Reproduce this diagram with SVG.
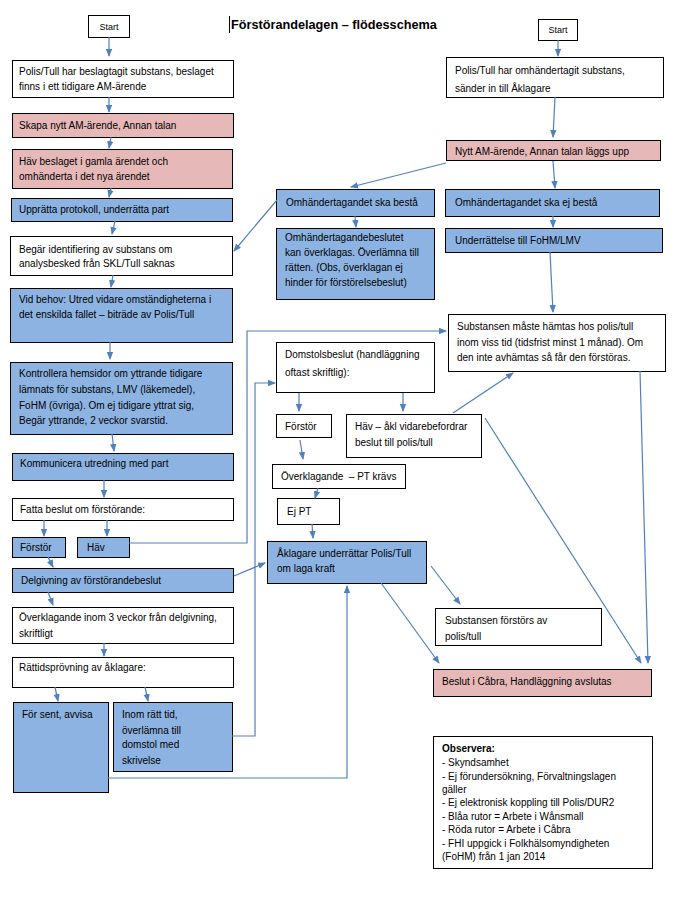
<svg xmlns="http://www.w3.org/2000/svg" width="675" height="898" viewBox="0 0 675 898">
<defs>
<marker id="ah" markerUnits="userSpaceOnUse" markerWidth="8" markerHeight="8" viewBox="0 0 8 8" refX="7" refY="4" orient="auto">
<path d="M0,0.8 L8,4 L0,7.2 Z" fill="#4F81BD"/>
</marker>
<style>
.w{fill:#ffffff;stroke:#000;stroke-width:1}
.b{fill:#8DB3E2;stroke:#000;stroke-width:1}
.p{fill:#E6B9B8;stroke:#000;stroke-width:1}
text{font-family:"Liberation Sans",Arial,sans-serif;font-size:10px;fill:#000}
.t{font-size:12.7px;font-weight:bold}
.s{font-size:9px}
.bo{font-weight:bold}
#conn line,#conn polyline{stroke:#4F81BD;stroke-width:1.2;fill:none;marker-end:url(#ah)}
</style>
</defs>
<rect width="675" height="898" fill="#fff"/>
<g id="title">
<line x1="229.5" y1="16" x2="229.5" y2="33" stroke="#000" stroke-width="1"/>
<text class="t" x="231" y="29">Förstörandelagen – flödesschema</text>
</g>

<g id="start-left"><rect class="w" x="88.5" y="15.5" width="41" height="22"/><text class="s" x="109" y="30" text-anchor="middle">Start</text></g>
<g id="beslag"><rect class="w" x="12.5" y="60.5" width="221" height="37"/><text x="19" y="75">Polis/Tull har beslagtagit substans, beslaget</text><text x="19" y="90">finns i ett tidigare AM-ärende</text></g>
<g id="skapa"><rect class="p" x="12.5" y="113.5" width="221" height="24"/><text x="19" y="129">Skapa nytt AM-ärende, Annan talan</text></g>
<g id="hav-beslag"><rect class="p" x="12.5" y="149.5" width="220" height="39"/><text x="19" y="165">Häv beslaget i gamla ärendet och</text><text x="19" y="180">omhänderta i det nya ärendet</text></g>
<g id="upprata"><rect class="b" x="11.5" y="198.5" width="221" height="23"/><text x="19" y="213">Upprätta protokoll, underrätta part</text></g>
<g id="begar"><rect class="w" x="10.5" y="236.5" width="222" height="39"/><text x="19" y="253">Begär identifiering av substans om</text><text x="19" y="267">analysbesked från SKL/Tull saknas</text></g>
<g id="vidbehov"><rect class="b" x="10.5" y="288.5" width="222" height="54"/><text x="19" y="303">Vid behov: Utred vidare omständigheterna i</text><text x="19" y="318">det enskilda fallet – biträde av Polis/Tull</text></g>
<g id="kontrollera"><rect class="b" x="10.5" y="362.5" width="222" height="72"/><text x="19" y="377">Kontrollera hemsidor om yttrande tidigare</text><text x="19" y="393">lämnats för substans, LMV (läkemedel),</text><text x="19" y="409">FoHM (övriga). Om ej tidigare yttrat sig,</text><text x="19" y="424">Begär yttrande, 2 veckor svarstid.</text></g>
<g id="kommunicera"><rect class="b" x="12.5" y="453.5" width="221" height="27"/><text x="20" y="467">Kommunicera utredning med part</text></g>
<g id="fatta"><rect class="w" x="12.5" y="498.5" width="221" height="22"/><text x="20" y="513">Fatta beslut om förstörande:</text></g>
<g id="forstor-l"><rect class="b" x="12.5" y="537.5" width="53" height="20"/><text x="20" y="551">Förstör</text></g>
<g id="hav-l"><rect class="b" x="77.5" y="537.5" width="52" height="20"/><text x="87" y="551">Häv</text></g>
<g id="delgivning"><rect class="b" x="12.5" y="568.5" width="221" height="24"/><text x="21" y="584">Delgivning av förstörandebeslut</text></g>
<g id="overklagande3"><rect class="w" x="12.5" y="607.5" width="221" height="36"/><text x="19" y="621">Överklagande inom 3 veckor från delgivning,</text><text x="19" y="637">skriftligt</text></g>
<g id="rattid"><rect class="w" x="12.5" y="657.5" width="221" height="30"/><text x="19" y="671">Rättidsprövning av åklagare:</text></g>
<g id="forsent"><rect class="b" x="13.5" y="702.5" width="95" height="90"/><text x="22" y="718">För sent, avvisa</text></g>
<g id="inomratt"><rect class="b" x="113.5" y="702.5" width="119" height="69"/><text x="122" y="718">Inom rätt tid,</text><text x="122" y="734">överlämna till</text><text x="122" y="748">domstol med</text><text x="122" y="764">skrivelse</text></g>

<g id="start-right"><rect class="w" x="538.5" y="19.5" width="39" height="21"/><text class="s" x="558" y="33" text-anchor="middle">Start</text></g>
<g id="omhandertagit"><rect class="w" x="446.5" y="57.5" width="217" height="40"/><text x="455" y="74">Polis/Tull har omhändertagit substans,</text><text x="455" y="92">sänder in till Åklagare</text></g>
<g id="nyttam"><rect class="p" x="446.5" y="140.5" width="214" height="20"/><text x="455" y="155">Nytt AM-ärende, Annan talan läggs upp</text></g>
<g id="skabesta"><rect class="b" x="276.5" y="189.5" width="158" height="27"/><text x="286" y="206">Omhändertagandet ska bestå</text></g>
<g id="skaejbesta"><rect class="b" x="445.5" y="189.5" width="214" height="27"/><text x="455" y="206">Omhändertagandet ska ej bestå</text></g>
<g id="beslutet"><rect class="b" x="276.5" y="228.5" width="158" height="71"/><text x="285" y="241">Omhändertagandebeslutet</text><text x="285" y="256">kan överklagas. Överlämna till</text><text x="285" y="271">rätten. (Obs, överklagan ej</text><text x="285" y="286">hinder för förstörelsebeslut)</text></g>
<g id="underrattelse"><rect class="b" x="445.5" y="228.5" width="217" height="24"/><text x="455" y="244">Underrättelse till FoHM/LMV</text></g>
<g id="hamtas"><rect class="w" x="448.5" y="314.5" width="217" height="57"/><text x="457" y="330">Substansen måste hämtas hos polis/tull</text><text x="457" y="346">inom viss tid (tidsfrist minst 1 månad). Om</text><text x="457" y="361">den inte avhämtas så får den förstöras.</text></g>
<g id="domstol"><rect class="w" x="276.5" y="342.5" width="158" height="50"/><text x="285" y="358">Domstolsbeslut (handläggning</text><text x="285" y="376">oftast skriftlig):</text></g>
<g id="forstor-r"><rect class="w" x="276.5" y="414.5" width="55" height="23"/><text x="285" y="430">Förstör</text></g>
<g id="hav-r"><rect class="w" x="346.5" y="414.5" width="135" height="43"/><text x="355" y="430">Häv – åkl vidarebefordrar</text><text x="355" y="446">beslut till polis/tull</text></g>
<g id="overklagandept"><rect class="w" x="272.5" y="464.5" width="133" height="24"/><text x="281" y="480" xml:space="preserve">Överklagande  – PT krävs</text></g>
<g id="ejpt"><rect class="w" x="277.5" y="498.5" width="62" height="26"/><text x="287" y="515">Ej PT</text></g>
<g id="aklagare"><rect class="b" x="267.5" y="541.5" width="159" height="42"/><text x="277" y="557">Åklagare underrättar Polis/Tull</text><text x="277" y="572">om laga kraft</text></g>
<g id="forstors"><rect class="w" x="435.5" y="608.5" width="166" height="37"/><text x="445" y="624">Substansen förstörs av</text><text x="445" y="640">polis/tull</text></g>
<g id="cabra"><rect class="p" x="433.5" y="669.5" width="218" height="27"/><text x="442" y="685">Beslut i Cåbra, Handläggning avslutas</text></g>
<g id="observera"><rect class="w" x="433.5" y="736.5" width="219" height="132"/>
<text class="bo" x="442" y="752">Observera:</text>
<text x="442" y="766">- Skyndsamhet</text>
<text x="442" y="780">- Ej förundersökning, Förvaltningslagen</text>
<text x="442" y="793">gäller</text>
<text x="442" y="806">- Ej elektronisk koppling till Polis/DUR2</text>
<text x="442" y="820">- Blåa rutor = Arbete i Wånsmall</text>
<text x="442" y="833">- Röda rutor = Arbete i Cåbra</text>
<text x="442" y="847">- FHI uppgick i Folkhälsomyndigheten</text>
<text x="442" y="860">(FoHM) från 1 jan 2014</text>
</g>

<g id="conn">
<line x1="109" y1="37" x2="109" y2="56"/>
<line x1="109" y1="97" x2="109" y2="112"/>
<line x1="111" y1="137" x2="109" y2="148"/>
<line x1="111" y1="188" x2="109" y2="197"/>
<line x1="115" y1="221" x2="112" y2="234"/>
<line x1="113" y1="275" x2="111" y2="287"/>
<line x1="110" y1="342" x2="110" y2="359"/>
<line x1="112" y1="434" x2="114" y2="451"/>
<line x1="104" y1="480" x2="104" y2="497"/>
<line x1="44" y1="520" x2="44" y2="536"/>
<line x1="107" y1="520" x2="107" y2="536"/>
<line x1="48" y1="557" x2="53" y2="567"/>
<polyline points="129,543 247,543 247,331 446,331"/>
<line x1="234" y1="576" x2="265" y2="563"/>
<line x1="48" y1="592" x2="53" y2="605"/>
<line x1="104" y1="643" x2="104" y2="656"/>
<line x1="55" y1="687" x2="58" y2="701"/>
<line x1="145" y1="687" x2="148" y2="701"/>
<polyline points="232,736 255,736 255,383 275,383"/>
<polyline points="108,778 347,778 347,586"/>
<line x1="558" y1="40" x2="558" y2="56"/>
<line x1="555" y1="97" x2="553" y2="137"/>
<line x1="446" y1="163" x2="351" y2="187"/>
<line x1="553" y1="161" x2="555" y2="188"/>
<line x1="355" y1="216" x2="356" y2="227"/>
<line x1="553" y1="216" x2="553" y2="227"/>
<line x1="277" y1="200" x2="234" y2="251"/>
<line x1="550" y1="252" x2="553" y2="312"/>
<line x1="299" y1="393" x2="299" y2="411"/>
<line x1="403" y1="393" x2="403" y2="411"/>
<line x1="453" y1="413" x2="513" y2="373"/>
<line x1="485" y1="418" x2="641" y2="663"/>
<line x1="640" y1="371" x2="648" y2="663"/>
<line x1="300" y1="440" x2="303" y2="459"/>
<line x1="318" y1="488" x2="315" y2="498"/>
<line x1="312" y1="524" x2="313" y2="538"/>
<line x1="431" y1="566" x2="460" y2="604"/>
<line x1="381" y1="583" x2="439" y2="663"/>
</g>
</svg>
